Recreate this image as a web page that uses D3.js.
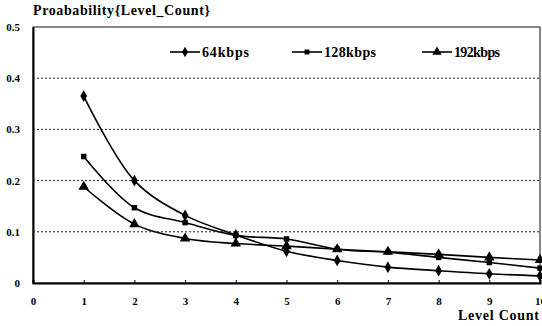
<!DOCTYPE html>
<html>
<head>
<meta charset="utf-8">
<script src="https://cdn.jsdelivr.net/npm/d3@7"></script>
<style>
  body { margin: 0; background: #fff; }
  text { font-family: "Liberation Serif", "Times New Roman", serif; font-weight: bold; fill: #000; }
</style>
</head>
<body>
<script>
const levels = [1, 2, 3, 4, 5, 6, 7, 8, 9, 10];
const seriesNames = ["64kbps", "128kbps", "192kbps"];
const kbps64 = [0.365, 0.200, 0.132, 0.094, 0.062, 0.044, 0.031, 0.024, 0.018, 0.014];
const kbps128 = [0.247, 0.147, 0.118, 0.093, 0.086, 0.066, 0.060, 0.050, 0.040, 0.029];
const kbps192 = [0.188, 0.115, 0.087, 0.077, 0.072, 0.066, 0.061, 0.056, 0.050, 0.045];
const xTicks = [0, 1, 2, 3, 4, 5, 6, 7, 8, 9, 10];
const yTicks = [0, 0.1, 0.2, 0.3, 0.4, 0.5];

const width = 542, height = 326;
const margin = { top: 27, right: 2, bottom: 43, left: 33 };

const svg = d3.select("body").append("svg")
  .attr("width", width)
  .attr("height", height);

const xScale = d3.scaleLinear().domain([0, 10]).range([margin.left, width - margin.right]);
const yScale = d3.scaleLinear().domain([0, 0.5]).range([height - margin.bottom, margin.top]);

// gridlines
svg.append("g")
  .selectAll("line")
  .data(yTicks.filter(d => d > 0 && d < 0.5))
  .join("line")
  .attr("x1", xScale(0))
  .attr("x2", xScale(10))
  .attr("y1", d => yScale(d))
  .attr("y2", d => yScale(d))
  .attr("stroke", "#222")
  .attr("stroke-width", 1)
  .attr("stroke-dasharray", "2,2");

// frame
svg.append("rect")
  .attr("x", xScale(0))
  .attr("y", yScale(0.5))
  .attr("width", xScale(10) - xScale(0))
  .attr("height", yScale(0) - yScale(0.5))
  .attr("fill", "none")
  .attr("stroke", "#111")
  .attr("stroke-width", 1);

// axes
const xAxis = d3.axisBottom(xScale).tickValues(xTicks).tickSize(-3).tickPadding(14).tickFormat(d3.format("d"));
const yAxis = d3.axisLeft(yScale).tickValues(yTicks).tickSize(0).tickPadding(13)
  .tickFormat(d => d === 0 ? "0" : d3.format(".1f")(d));

svg.append("g")
  .attr("transform", `translate(0,${yScale(0)})`)
  .call(xAxis)
  .call(g => g.select(".domain").attr("stroke-width", 2))
  .call(g => g.selectAll("text").attr("font-size", 11).attr("font-family", null))
  .call(g => g.selectAll(".tick line").attr("stroke-width", 1));

svg.append("g")
  .attr("transform", `translate(${xScale(0)},0)`)
  .call(yAxis)
  .call(g => g.select(".domain").attr("stroke-width", 2))
  .call(g => g.selectAll("text").attr("font-size", 11).attr("font-family", null));

// title and axis label
svg.append("text")
  .attr("x", 33)
  .attr("y", 15)
  .attr("font-size", 14)
  .attr("textLength", 177)
  .attr("lengthAdjust", "spacing")
  .text("Proabability{Level_Count}");

svg.append("text")
  .attr("x", 458)
  .attr("y", 320)
  .attr("font-size", 14)
  .attr("textLength", 81)
  .attr("lengthAdjust", "spacing")
  .text("Level Count");

// series
const series = [
  { name: seriesNames[0], values: kbps64, symbol: d3.symbolDiamond, size: 40 },
  { name: seriesNames[1], values: kbps128, symbol: d3.symbolSquare, size: 30 },
  { name: seriesNames[2], values: kbps192, symbol: d3.symbolTriangle, size: 48 }
];

const line = d3.line()
  .curve(d3.curveCatmullRom.alpha(0.5))
  .x(d => xScale(d[0]))
  .y(d => yScale(d[1]));

series.forEach(s => {
  const pts = levels.map((l, i) => [l, s.values[i]]);
  svg.append("path")
    .attr("d", line(pts))
    .attr("fill", "none")
    .attr("stroke", "#000")
    .attr("stroke-width", 1.6);
  svg.append("g")
    .selectAll("path")
    .data(pts)
    .join("path")
    .attr("transform", d => `translate(${xScale(d[0])},${yScale(d[1])})`)
    .attr("d", d3.symbol(s.symbol, s.size))
    .attr("fill", "#000");
});

// legend
const legendX = [170, 292, 422];
const legendW = [47, 52, 46];
const legendY = 52;
series.forEach((s, i) => {
  const g = svg.append("g").attr("transform", `translate(${legendX[i]},${legendY})`);
  g.append("line")
    .attr("x1", 0).attr("x2", 30)
    .attr("stroke", "#000").attr("stroke-width", 1.6);
  g.append("path")
    .attr("transform", "translate(15,0)")
    .attr("d", d3.symbol(s.symbol, s.size * 0.8))
    .attr("fill", "#000");
  g.append("text")
    .attr("x", 32)
    .attr("y", 4.5)
    .attr("font-size", 14)
    .attr("textLength", legendW[i])
    .attr("lengthAdjust", "spacing")
    .text(s.name);
});
</script>
</body>
</html>
